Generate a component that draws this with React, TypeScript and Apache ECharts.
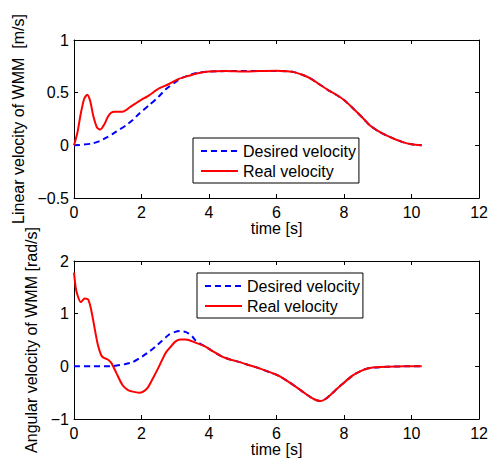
import React, { useEffect, useRef } from "react";
import * as echarts from "echarts";

// ---- Data ----
const seriesNames = ["Desired velocity", "Real velocity"];
const xTitle = "time [s]";
const topYTitle = "Linear velocity of WMM  [m/s]";
const bottomYTitle = "Angular velocity of WMM [rad/s]";

// Top: linear velocity
const linDesiredT = [0, 0.5, 0.76, 1.0, 1.25, 1.54, 1.74, 1.93, 2.22, 2.5, 2.71, 3.0, 3.2, 3.5, 3.69, 4.0, 4.5, 5.0, 5.5, 6.0, 6.3, 6.52, 6.8, 7.0, 7.3, 7.55, 7.78, 8.0, 8.27, 8.57, 8.76, 9.05, 9.35, 9.74, 10.0, 10.3];
const linDesiredV = [0, 0.015, 0.04, 0.08, 0.13, 0.19, 0.24, 0.3, 0.38, 0.46, 0.53, 0.6, 0.64, 0.675, 0.69, 0.7, 0.705, 0.705, 0.705, 0.705, 0.703, 0.695, 0.665, 0.635, 0.573, 0.52, 0.478, 0.43, 0.35, 0.255, 0.19, 0.127, 0.08, 0.03, 0.01, 0.0];

const linRealT = [0, 0.1, 0.2, 0.3, 0.39, 0.48, 0.57, 0.68, 0.78, 0.9, 1.0, 1.1, 1.2, 1.45, 1.69, 1.93, 2.2, 2.52, 2.8, 3.1, 3.4, 3.6, 4.0, 4.5, 5.0, 5.5, 6.0, 6.3, 6.52, 6.8, 7.0, 7.3, 7.55, 7.78, 8.0, 8.27, 8.57, 8.76, 9.05, 9.35, 9.74, 10.0, 10.3];
const linRealV = [0, 0.12, 0.3, 0.44, 0.48, 0.42, 0.28, 0.17, 0.15, 0.2, 0.27, 0.31, 0.32, 0.32, 0.37, 0.42, 0.47, 0.54, 0.58, 0.63, 0.66, 0.68, 0.7, 0.705, 0.7, 0.705, 0.708, 0.703, 0.695, 0.665, 0.635, 0.573, 0.52, 0.478, 0.43, 0.35, 0.255, 0.19, 0.127, 0.08, 0.03, 0.01, 0.0];

// Bottom: angular velocity
const angDesiredT = [0, 0.5, 1.0, 1.15, 1.5, 1.74, 2.03, 2.25, 2.42, 2.6, 2.81, 3.0, 3.15, 3.3, 3.4, 3.5, 3.6, 3.79, 3.88, 4.08, 4.37, 4.67, 4.86, 5.15, 5.45, 6.03, 6.3, 6.62, 6.9, 7.1, 7.3, 7.45, 7.6, 7.8, 7.98, 8.2, 8.37, 8.6, 8.77, 9.25, 9.8, 10.3];
const angDesiredV = [0, 0, 0, 0.005, 0.04, 0.08, 0.19, 0.29, 0.38, 0.48, 0.6, 0.655, 0.67, 0.655, 0.62, 0.57, 0.49, 0.41, 0.38, 0.3, 0.19, 0.12, 0.09, 0.03, -0.03, -0.17, -0.27, -0.41, -0.54, -0.62, -0.66, -0.62, -0.54, -0.42, -0.32, -0.2, -0.13, -0.06, -0.03, -0.01, 0.0, 0.0];

const angRealT = [0, 0.05, 0.1, 0.2, 0.32, 0.42, 0.5, 0.57, 0.64, 0.71, 0.8, 0.86, 1.0, 1.1, 1.25, 1.44, 1.6, 1.74, 1.93, 2.05, 2.18, 2.32, 2.52, 2.71, 2.86, 3.0, 3.15, 3.3, 3.4, 3.6, 3.88, 4.08, 4.37, 4.67, 4.86, 5.15, 5.45, 6.03, 6.3, 6.62, 6.9, 7.1, 7.3, 7.45, 7.6, 7.8, 7.98, 8.2, 8.37, 8.6, 8.77, 9.25, 9.8, 10.3];
const angRealV = [1.78, 1.5, 1.36, 1.22, 1.29, 1.27, 1.1, 0.87, 0.62, 0.4, 0.22, 0.17, 0.13, 0.07, -0.12, -0.36, -0.45, -0.48, -0.5, -0.48, -0.41, -0.25, 0.0, 0.25, 0.37, 0.47, 0.51, 0.51, 0.5, 0.45, 0.38, 0.3, 0.19, 0.12, 0.09, 0.03, -0.03, -0.17, -0.27, -0.41, -0.54, -0.62, -0.66, -0.62, -0.54, -0.42, -0.32, -0.2, -0.13, -0.06, -0.03, -0.01, 0.0, 0.0];

const FONT = "'Liberation Sans', Arial, Helvetica, sans-serif";

const zip = (t: number[], v: number[]) => t.map((x, i) => [x, v[i]]);
const fmt = (v: number) => (v < 0 ? "\u2212" + String(Math.abs(v)) : String(v));

export default function App() {
  const ref = useRef<HTMLDivElement>(null);
  useEffect(() => {
    if (!ref.current) return;
    const chart = echarts.init(ref.current, null, { renderer: "svg" });
    const axisLine = { show: true, onZero: false, lineStyle: { color: "#000", width: 1 } };
    const axisTick = { show: true, inside: true, length: 4, lineStyle: { color: "#000", width: 1 } };
    const label = { fontSize: 16, color: "#000", fontFamily: FONT };
    const xBase = (grid: number, gap: number) => ({
      gridIndex: grid, type: "value", min: 0, max: 12, interval: 2, position: "bottom",
      axisLine, axisTick, splitLine: { show: false },
      axisLabel: { ...label, margin: 6, formatter: fmt },
      name: xTitle, nameLocation: "middle", nameGap: gap, nameTextStyle: label,
    });
    const xTop = (grid: number) => ({
      gridIndex: grid, type: "value", min: 0, max: 12, interval: 2, position: "top",
      axisLine, axisTick, splitLine: { show: false }, axisLabel: { show: false },
    });
    const yLeft = (grid: number, min: number, max: number, interval: number, name: string, gap: number) => ({
      gridIndex: grid, type: "value", min, max, interval, position: "left",
      axisLine, axisTick, splitLine: { show: false },
      axisLabel: { ...label, margin: 5, formatter: fmt },
      name, nameLocation: "middle", nameGap: gap, nameTextStyle: label,
    });
    const yRight = (grid: number, min: number, max: number, interval: number) => ({
      gridIndex: grid, type: "value", min, max, interval, position: "right",
      axisLine, axisTick, splitLine: { show: false }, axisLabel: { show: false },
    });
    const line = (name: string, data: number[][], xi: number, yi: number, dashed: boolean) => ({
      name, type: "line", xAxisIndex: xi, yAxisIndex: yi, data,
      symbol: "none", showSymbol: false, smooth: 0.25,
      lineStyle: { color: dashed ? "#0000ff" : "#ff0000", width: 2, type: dashed ? [6, 4] : "solid" },
      itemStyle: { color: dashed ? "#0000ff" : "#ff0000" },
      z: dashed ? 2 : 3,
    });
    const legend = (left: number, top: number) => ({
      left, top, orient: "vertical", itemWidth: 37, itemHeight: 14, itemGap: 4,
      padding: [5, 3, 4, 7], borderColor: "#000", borderWidth: 1, backgroundColor: "#fff",
      selectedMode: false, textStyle: label, data: seriesNames, z: 10,
      itemStyle: { opacity: 0, borderWidth: 0 },
    });
    chart.setOption({
      animation: false,
      backgroundColor: "#fff",
      grid: [
        { left: 74, top: 40, width: 410, height: 158 },
        { left: 74, top: 261, width: 410, height: 158 },
      ],
      xAxis: [xBase(0, 22), xTop(0), xBase(1, 20), xTop(1)],
      yAxis: [
        yLeft(0, -0.5, 1, 0.5, topYTitle, 42), yRight(0, -0.5, 1, 0.5),
        yLeft(1, -1, 2, 1, bottomYTitle, 29), yRight(1, -1, 2, 1),
      ],
      legend: [legend(193, 138), legend(197, 273)],
      series: [
        line(seriesNames[0], zip(linDesiredT, linDesiredV), 0, 0, true),
        line(seriesNames[1], zip(linRealT, linRealV), 0, 0, false),
        line(seriesNames[0], zip(angDesiredT, angDesiredV), 2, 2, true),
        line(seriesNames[1], zip(angRealT, angRealV), 2, 2, false),
      ],
    } as any);
    return () => chart.dispose();
  }, []);
  return <div ref={ref} style={{ position: "absolute", left: 0, top: 0, width: 491, height: 460 }} />;
}
